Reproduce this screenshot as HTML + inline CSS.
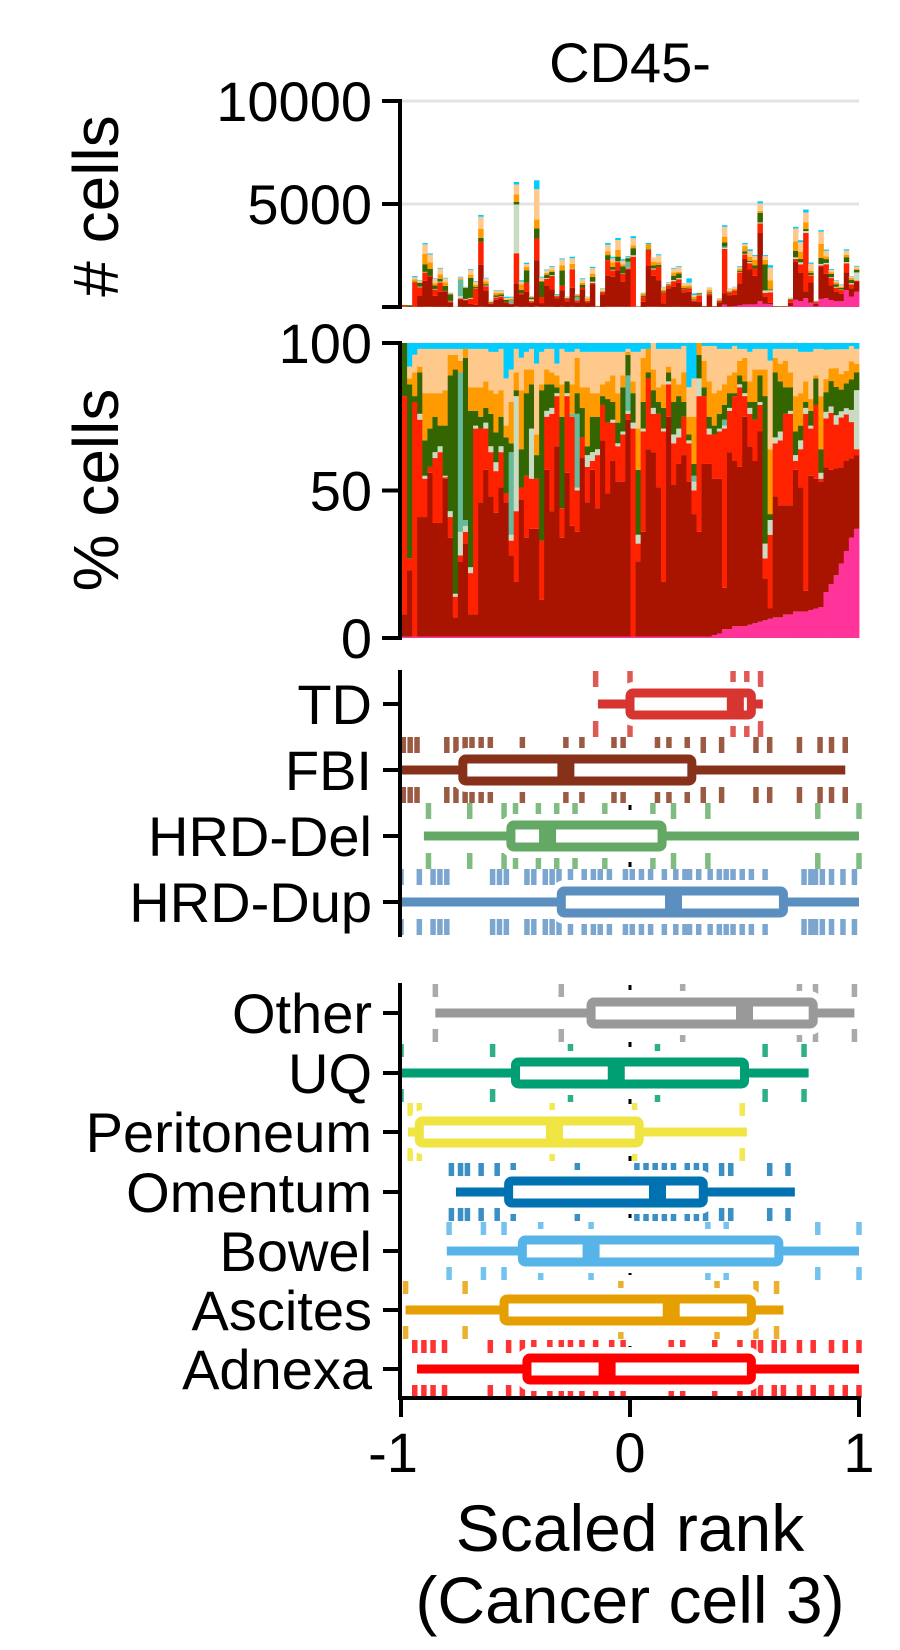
<!DOCTYPE html>
<html><head><meta charset="utf-8"><title>CD45- scaled rank</title>
<style>
html,body{margin:0;padding:0;background:#fff;}
svg{display:block;font-family:"Liberation Sans",Arial,sans-serif;}
</style></head>
<body>
<svg id="chart" width="900" height="1650" viewBox="0 0 900 1650" xmlns="http://www.w3.org/2000/svg">
  <text x="630" y="82" font-size="56" text-anchor="middle">CD45-</text>
  <g id="counts"></g>
  <g id="pcts"></g>
  <g id="box1"></g>
  <g id="box2"></g>
  <g id="axes"></g>
  <text transform="translate(118,206) rotate(-90)" font-size="64" text-anchor="middle"># cells</text>
  <text transform="translate(118,490) rotate(-90)" font-size="64" text-anchor="middle">% cells</text>
  <text x="630" y="1551" font-size="66" text-anchor="middle">Scaled rank</text>
  <text x="630" y="1623" font-size="66" text-anchor="middle">(Cancer cell 3)</text>
</svg>
<script>
// ---------- stacked bar data (90 samples) ----------
const totals = [100,100,1500,1300,3100,2600,1390,1900,1420,690, 10,1470,980,1840,1260,4470,1420,300,820,820, 500,500,6070,1300,2150,530,6150,1470,1820,1980, 630,2360,500,2440,630,1390,500,1950,50,900, 3110,2440,3350,2320,2470,3440,50,690,3110,2400, 2560,980,1210,1900,1980,1150,1390,660,690,50, 950,50,430,3970,890,980,1980,3110,2800,2520, 5130,2520,2030,50,50,50,450,3890,3240,4730, 2160,300,3730,2790,1840,1300,1100,2800,1500,2000];
const pinkPct = [0.5,0.5,0.5,0.5,0.5,0.5,0.5,0.5,0.5,0.5, 0.5,0.5,0.5,0.5,0.5,0.5,0.5,0.5,0.5,0.5, 0.5,0.5,0.5,0.5,0.5,0.5,0.5,0.5,0.5,0.5, 0.5,0.5,0.5,0.5,0.5,0.5,0.5,0.5,0.5,0.5, 0.5,0.5,0.5,0.5,0.5,0.5,0.5,0.5,0.5,0.5, 0.5,0.5,0.5,0.5,0.5,0.5,0.5,0.5,0.5,0.5, 0.5,1,1.5,3,3,4,4,4,4.5,5, 5.5,6,6.5,7,7,8,8,9,9,9, 9.5,10,10.5,14,17,20,24,28,33,37];
const darkRedPct = [7.5,22.5,0,40.5,40.5,55.5,38.5,38.5,53.5,33.5, 6.5,25.5,31.5,7.5,7.5,45.5,56.5,47.5,41.5,50.5, 45.5,27.5,18.5,46.5,33.5,36.5,36.5,12.5,56.5,42.5, 64.5,33.5,55.5,37.5,35.5,60.5,45.5,56.5,43.5,66.5, 48.5,59.5,52.5,52.5,73.5,0,25.5,35.5,63.5,62.5, 50.5,18.5,74.5,51.5,58.5,61.5,52.5,41.5,35.5,58.5, 58.5,53,52.5,14,60,56,54,71,60.5,55, 64.5,14,3.5,41,38,37,37,48,42,7, 45.5,44,42.5,38,36,34,31,29,26,25];
const redPct = [74,4,79.5,33,13,2,22,24,0.5,7, 7,2,4,14,63,25,14,15,14,12, 3,5,24,4,21,17,17,20,18,33, 17,10,26,37,14,7,12,3,18,12, 24,13,12,16,2,70.5,6,34,24,13, 25,51,11,14,9,13,13,8,46,23, 10,15,16,54,14,22,27,7,11,14, 9,7,25,18,22,31,31,3,13,60, 16,25,1,15,18,14,16,15,12,2];
const sagePct = [0,0,0,2,1,0,2,2,0.5,2, 1,8,2,2,1,0,2,2,3,2, 0,2,39,0,0,17,0,0,2,2, 1,0,1,0,1,0,4,3,2,0, 0,1,1,1,1,2,3,1,0,2, 0,1,1,3,3,0,1,3,6,0, 2,0,1,1,1,0,1,1,2,0, 1,5,5,2,3,0,1,2,3,2, 1,0,2,2,2,3,2,2,4,20];
const tealPct = [0,0,0,0,0,0,0,0,0,0, 0,54,2,0,0,0,0,0,0,0, 0,28,0,0,0,0,0,0,0,0, 0,0,0,1,25,0,0,0,0,0, 0,0,0,0,12,0,0,0,0,0, 0,0,0,0,0,0,0,2,0,0, 0,0,0,2,0,0,0,0,0,0, 0,0,0,0,0,0,0,0,0,0, 0,0,0,0,0,0,0,0,0,0];
const greenPct = [18,59,2,14,12,13,12,7,17,46, 76,0,55,53,5,4,5,11,10,10, 19,3,2,13,28,15,8,51,9,8, 2,31,4,0,7,10,3,12,11,3, 8,6,7,15,7,10,22,9,2,6, 4,7,3,11,11,5,2,4,8,3, 4,3,5,5,5,1,3,4,2,6, 9,50,2,22,17,9,8,8,5,2, 5,9,8,6,8,9,7,8,10,6];
const orangePct = [0,2,8,2,16,12,8,11,12,7, 5,4,3,8,8,10,9,8,13,9, 4,14,6,20,8,5,7,2,5,4, 4,11,0,10,12,7,20,8,8,4, 6,9,10,4,1,4,14,15,8,7, 5,8,2,8,4,10,6,16,4,9, 12,11,8,7,6,7,5,8,7,11, 2,9,22,5,6,9,5,12,11,7, 4,1,18,4,4,6,5,4,6,3];
const peachPct = [0,4,6,6,15,15,15,15,14,2, 2,4,0,13,13,13,11,13,14,14, 16,11,8,11,6,7,24,11,7,8, 4,12,10,11,3,12,12,14,14,11, 10,8,14,8,1,10,26,3,0,9, 13,12,6,10,12,9,10,13,0,5, 12,16,14,12,9,9,4,3,10,7, 7,7,30,3,5,4,8,16,14,10, 16,9,16,9,6,6,8,7,5,5];
const cyanPct = [0,8,4,2,2,2,2,2,2,2, 2,2,2,2,2,2,2,3,3,2, 12,9,2,5,3,2,7,3,2,2, 7,2,3,3,2,3,3,3,3,3, 3,3,3,3,2,3,3,2,2,0, 2,2,2,2,2,1,15,12,0,1, 1,1,2,2,2,1,2,2,3,2, 2,2,6,2,2,2,2,2,3,3, 3,2,2,2,2,2,2,2,1,2];
const countTicks = [10000, 5000, 0];
const countTickLabels = ["10000", "5000", ""];
const pctTicks = [100, 50, 0];
const pctTickLabels = ["100", "50", "0"];

// ---------- box plot data ----------
const sigNames = ["TD","FBI","HRD-Del","HRD-Dup"];
const sigWhiskLo = [-0.14,-1.0,-0.9,-1.0];
const sigQ1 = [0.0,-0.73,-0.52,-0.3];
const sigMedian = [0.46,-0.28,-0.36,0.19];
const sigQ3 = [0.53,0.27,0.14,0.67];
const sigWhiskHi = [0.58,0.94,1.0,1.0];
const sigRugTD = [-0.15,0.0,0.45,0.51,0.57];
const sigRugFBI = [-0.99,-0.96,-0.93,-0.8,-0.76,-0.72,-0.69,-0.65,-0.61,-0.47,-0.28,-0.21,-0.07,-0.03,0.12,0.17,0.25,0.32,0.4,0.55,0.61,0.74,0.83,0.88,0.94];
const sigRugDel = [-0.88,-0.7,-0.55,-0.5,-0.4,-0.32,-0.24,-0.11,0.1,0.19,0.34,0.82,1.0];
const sigRugDup = [-1.0,-0.92,-0.86,-0.83,-0.8,-0.6,-0.57,-0.54,-0.45,-0.42,-0.37,-0.34,-0.31,-0.26,-0.2,-0.16,-0.13,-0.09,-0.02,0.01,0.05,0.09,0.15,0.2,0.24,0.26,0.3,0.35,0.39,0.42,0.45,0.49,0.53,0.59,0.76,0.79,0.81,0.84,0.88,0.93,0.98];

const siteNames = ["Other","UQ","Peritoneum","Omentum","Bowel","Ascites","Adnexa"];
const siteWhiskLo = [-0.85,-1.0,-0.97,-0.76,-0.8,-0.98,-0.93];
const siteQ1 = [-0.17,-0.5,-0.92,-0.53,-0.47,-0.55,-0.45];
const siteMedian = [0.5,-0.06,-0.33,0.12,-0.17,0.18,-0.1];
const siteQ3 = [0.8,0.5,0.04,0.32,0.65,0.53,0.53];
const siteWhiskHi = [0.98,0.78,0.51,0.72,1.0,0.67,1.0];
const rugOther = [-0.85,-0.3,0.23,0.74,0.81,0.98];
const rugUQ = [-1.0,-0.6,-0.26,0.12,0.59,0.76];
const rugPeritoneum = [-0.96,-0.92,-0.34,0.02,0.49];
const rugOmentum = [-0.78,-0.74,-0.71,-0.65,-0.58,-0.51,-0.23,0.03,0.07,0.11,0.15,0.19,0.25,0.29,0.33,0.4,0.44,0.61,0.69];
const rugBowel = [-0.79,-0.64,-0.55,-0.39,-0.17,0.34,0.42,0.82,1.0];
const rugAscites = [-0.98,-0.72,-0.04,0.38,0.55,0.64];
const rugAdnexa = [-0.94,-0.9,-0.86,-0.81,-0.61,-0.53,-0.47,-0.42,-0.35,-0.3,-0.26,-0.21,-0.15,-0.08,-0.03,0.18,0.23,0.37,0.48,0.54,0.57,0.63,0.67,0.74,0.8,0.88,0.94,1.0];
const xTicks = [-1, 0, 1];
const xTickLabels = ["-1", "0", "1"];

// ---------- drawing ----------
const NS = "http://www.w3.org/2000/svg";
function mk(tag, attrs, parent){
  const e = document.createElementNS(NS, tag);
  for (const k in attrs) e.setAttribute(k, attrs[k]);
  parent.appendChild(e);
  return e;
}
const X0 = 402, X1 = 859;
const xScale = v => 630 + v * (X1 - 630);
const cntY = v => 307 - v / 10000 * 206;
const pctY = v => 638 - v / 100 * 295;

const series = [pinkPct, darkRedPct, redPct, sagePct, tealPct, greenPct, orangePct, peachPct, cyanPct];
const seriesNames = ["pink","dark-red","red","sage","teal","dark-green","orange","peach","cyan"];
const colors = ["#ff3399","#a81400","#ff2200","#c9dbc2","#66b99b","#336600","#ff9a00","#ffc98c","#00ccff"];

const N = totals.length;
const bw = (X1 - X0) / N;
const gC = document.getElementById('counts');
const gP = document.getElementById('pcts');

[10000, 5000].forEach(v => {
  const g = mk('line', {x1: 402, x2: X1, y1: cntY(v), y2: cntY(v), stroke: '#e3e3e3', 'stroke-width': 3}, gC);
  
  
});

for (let i = 0; i < N; i++) {
  let sum = 0;
  series.forEach(s => sum += s[i]);
  let cum = 0;
  series.forEach((s, k) => {
    const frac = s[i] / sum;
    if (frac <= 0) return;
    const y0 = pctY(cum * 100), y1 = pctY((cum + frac) * 100);
    const r = mk('rect', {x: X0 + i * bw, y: y1, width: bw + 0.4, height: Math.max(0, y0 - y1), fill: colors[k]}, gP);
    
    
    const c0 = cntY(cum * totals[i]), c1 = cntY((cum + frac) * totals[i]);
    const r2 = mk('rect', {x: X0 + i * bw, y: c1, width: bw + 0.4, height: Math.max(0, c0 - c1), fill: colors[k]}, gC);
    
    
    cum += frac;
  });
}

const sigColors = ["#d73530","#88311a","#63a864","#5b8fc0"];
const sigRugColors = ["#e05a55","#9b5a42","#80bb82","#7aa6cf"];
const siteColors = ["#999999","#009e73","#f0e442","#0072b2","#56b4e9","#e69f00","#ff0000"];
const siteRugColors = ["#aaaaaa","#2faf88","#f2e84f","#3a8fc4","#74c2ee","#ebb030","#ff3333"];

function drawBoxPanel(g, rows, rugHalf, gapHalf, names, lo, q1, med, q3, hi, rugs, cols, rugCols, yTop, yBot){
  const zl = mk('line', {x1: xScale(0), x2: xScale(0), y1: yTop, y2: yBot, stroke: '#000', 'stroke-width': 3, 'stroke-dasharray': '5,14'}, g);
  
  
  rows.forEach((cy, i) => {
    rugs[i].forEach(v => {
      const x = xScale(v);
      const a = mk('line', {x1: x, x2: x, y1: cy - rugHalf, y2: cy - gapHalf, stroke: rugCols[i], 'stroke-width': 5.5}, g);
      
      
      const b = mk('line', {x1: x, x2: x, y1: cy + gapHalf, y2: cy + rugHalf, stroke: rugCols[i], 'stroke-width': 5.5}, g);
      
      
    });
    const bx = xScale(q1[i]), bx2 = xScale(q3[i]);
    const halo = mk('rect', {x: bx, y: cy - 11, width: bx2 - bx, height: 22, rx: 4, fill: '#fff', stroke: '#fff', 'stroke-width': 22}, g);
    
    
    const wk = mk('line', {x1: xScale(lo[i]), x2: xScale(hi[i]), y1: cy, y2: cy, stroke: cols[i], 'stroke-width': 9}, g);
    
    
    const box = mk('rect', {x: bx, y: cy - 11, width: bx2 - bx, height: 22, rx: 3, fill: '#fff', stroke: cols[i], 'stroke-width': 9}, g);
    
    
    const m = mk('rect', {x: xScale(med[i]) - 8.5, y: cy - 12, width: 17, height: 24, fill: cols[i]}, g);
    
    
    const t = mk('text', {x: 372, y: cy + 20, 'font-size': 56, 'text-anchor': 'end'}, g);
    t.textContent = names[i];
    
    
    const tk = mk('line', {x1: 383, x2: 400, y1: cy, y2: cy, stroke: '#000', 'stroke-width': 4}, g);
    
    
  });
}
drawBoxPanel(document.getElementById('box1'), [704,770,836,902], 33, 17,
  sigNames, sigWhiskLo, sigQ1, sigMedian, sigQ3, sigWhiskHi,
  [sigRugTD, sigRugFBI, sigRugDel, sigRugDup], sigColors, sigRugColors, 672, 935);
drawBoxPanel(document.getElementById('box2'), [1013,1073,1132,1192,1251,1310,1369], 29, 16,
  siteNames, siteWhiskLo, siteQ1, siteMedian, siteQ3, siteWhiskHi,
  [rugOther, rugUQ, rugPeritoneum, rugOmentum, rugBowel, rugAscites, rugAdnexa], siteColors, siteRugColors, 985, 1396);

const gA = document.getElementById('axes');
function spine(x1,y1,x2,y2,name){
  const l = mk('line', {x1, y1, x2, y2, stroke: '#000', 'stroke-width': 4, 'stroke-linecap': 'square'}, gA);
  
  
}
spine(400, 101, 400, 307, 'count-y-axis');
spine(400, 343, 400, 638, 'pct-y-axis');
spine(400, 672, 400, 935, 'signature-y-axis');
spine(400, 985, 400, 1398, 'site-y-axis');
spine(400, 1398, 859, 1398, 'x-axis');

countTicks.forEach((v, i) => {
  const y = cntY(v);
  spine(384, y, 400, y, 'count-y-tick');
  if (countTickLabels[i]) {
    const t = mk('text', {x: 372, y: y + 20, 'font-size': 56, 'text-anchor': 'end'}, gA);
    t.textContent = countTickLabels[i];
    
    
  }
});
pctTicks.forEach((v, i) => {
  const y = pctY(v);
  spine(384, y, 400, y, 'pct-y-tick');
  const t = mk('text', {x: 372, y: y + 20, 'font-size': 56, 'text-anchor': 'end'}, gA);
  t.textContent = pctTickLabels[i];
  
  
});
xTicks.forEach((v, i) => {
  const x = xScale(v);
  spine(x, 1398, x, 1415, 'x-tick');
  const t = mk('text', {x: x - (v < 0 ? 8 : 0), y: 1472, 'font-size': 56, 'text-anchor': 'middle'}, gA);
  t.textContent = xTickLabels[i];
  
  
});
</script>
</body></html>
